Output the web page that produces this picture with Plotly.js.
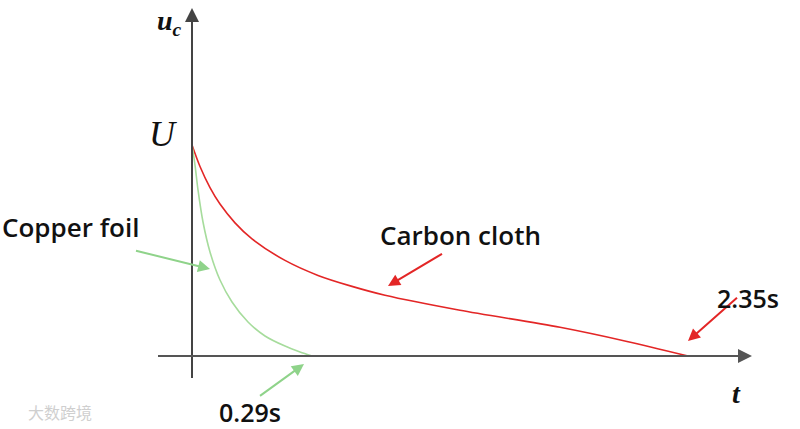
<!DOCTYPE html>
<html><head><meta charset="utf-8">
<script src="https://cdn.plot.ly/plotly-3.0.1.min.js"></script>
<style>html,body{margin:0;padding:0;background:#fff}</style>
</head><body><div id="chart" style="width:800px;height:429px"></div>
<script>
// Schematic discharge curves (time in schematic units, voltage relative to U)
const tCarbon = [0, 0.08, 0.18, 0.28, 0.43, 0.60, 0.93, 1.26, 1.60, 1.93, 2.68, 3.68, 4.35, 4.96];
const uCarbon = [1.0, 0.898, 0.798, 0.720, 0.631, 0.555, 0.453, 0.382, 0.330, 0.288, 0.217, 0.136, 0.069, 0.0];
const tCopper = [0, 0.03, 0.06, 0.11, 0.18, 0.28, 0.40, 0.56, 0.73, 0.93, 1.08, 1.20];
const uCopper = [1.0, 0.905, 0.787, 0.635, 0.493, 0.360, 0.256, 0.161, 0.095, 0.047, 0.019, 0.0];
const labels = {copper: "Copper foil", carbon: "Carbon cloth", tCopperEnd: "0.29s", tCarbonEnd: "2.35s", yAxis: "u<sub>c</sub>", U: "U", xAxis: "t"};

const X = p => (p - 192) / 100;
const Y = p => (356 - p) / 211;

const traces = [
  {x: tCarbon, y: uCarbon, mode: 'lines', line: {color: '#e32626', width: 1.6, shape: 'spline', smoothing: 0.8}, hoverinfo: 'skip'},
  {x: tCopper, y: uCopper, mode: 'lines', line: {color: '#a6dc9c', width: 1.6, shape: 'spline', smoothing: 0.8}, hoverinfo: 'skip'}
];

function arrow(x0, y0, x1, y1, color, w, head, size) {
  return {x: X(x1), y: Y(y1), ax: X(x0), ay: Y(y0), xref: 'x', yref: 'y', axref: 'x', ayref: 'y',
    text: ' ', showarrow: true, arrowhead: head, arrowsize: size, arrowwidth: w, arrowcolor: color};
}
function txt(x, y, t, font, xa) {
  return {x: X(x), y: Y(y), xref: 'x', yref: 'y', text: t, showarrow: false, font: font, xanchor: xa || 'center', yanchor: 'middle'};
}
const serif = {family: 'Liberation Serif, serif', color: '#111'};
const sans = {family: 'Open Sans, sans-serif', color: '#111', size: 26, weight: 600};
const sansNum = Object.assign({}, sans, {size: 25});

const annotations = [
  // axes
  arrow(192, 388, 192, 8, '#444', 2, 2, 1.4),
  arrow(155, 356, 752, 356, '#555', 2, 2, 1.4),
  // pointers
  arrow(133, 250, 210, 269, '#8fd38a', 2, 2, 1.2),
  arrow(257, 398, 304, 364, '#8fd38a', 2, 2, 1.2),
  arrow(445, 252, 388, 286, '#e32626', 2, 2, 1.2),
  arrow(740, 295, 688, 341, '#e32626', 2, 2, 1.2),
  // texts
  txt(169, 22, '<b><i>' + labels.yAxis + '</i></b>', Object.assign({size: 28}, serif)),
  txt(163, 134, '<i>' + labels.U + '</i>', Object.assign({size: 36}, serif)),
  txt(736, 393, '<b><i>' + labels.xAxis + '</i></b>', Object.assign({size: 28}, serif)),
  txt(0, 227, labels.copper, sans, 'left'),
  txt(460, 235, labels.carbon, sans),
  txt(748, 298, labels.tCarbonEnd, sansNum),
  txt(250, 412, labels.tCopperEnd, sansNum),
  txt(60, 412, '大数跨境', {family: 'Noto Sans CJK SC', size: 16, color: '#cfcfcf'})
];

const layout = {
  width: 800, height: 429,
  margin: {l: 0, r: 0, t: 0, b: 0},
  paper_bgcolor: '#fff', plot_bgcolor: '#fff',
  showlegend: false,
  xaxis: {range: [X(0), X(800)], visible: false, fixedrange: true},
  yaxis: {range: [Y(429), Y(0)], visible: false, fixedrange: true},
  annotations: annotations
};
Plotly.newPlot('chart', traces, layout, {staticPlot: true, displayModeBar: false});
</script></body></html>
